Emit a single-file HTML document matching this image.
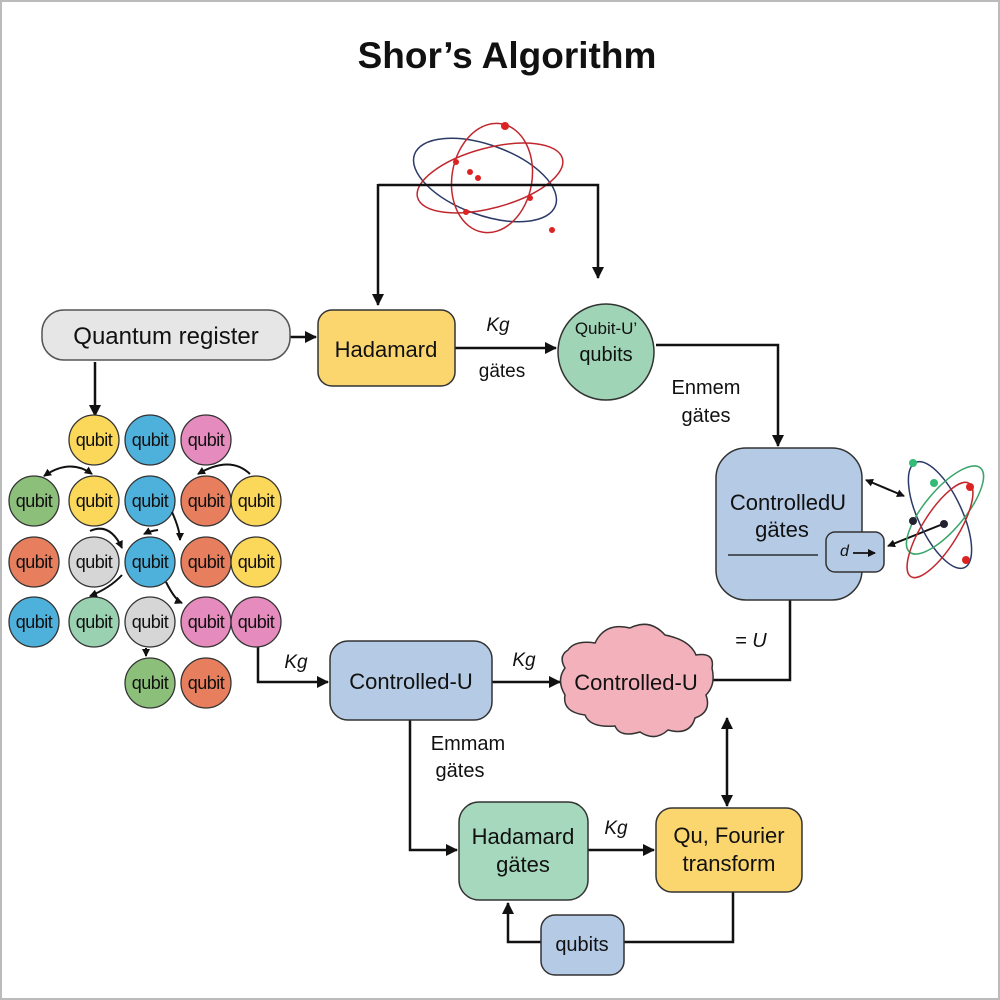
<!DOCTYPE html>
<html><head><meta charset="utf-8"><style>
body{margin:0;background:#fff;}
svg{display:block;font-family:"Liberation Sans",sans-serif;}
</style></head><body>
<svg width="1000" height="1000" viewBox="0 0 1000 1000" xmlns="http://www.w3.org/2000/svg">
<defs>
<marker id="a" markerWidth="12" markerHeight="12" refX="11" refY="6" orient="auto-start-reverse" markerUnits="userSpaceOnUse"><path d="M0,0 L12,6 L0,12 z" fill="#111"/></marker>
<marker id="s" markerWidth="8" markerHeight="8" refX="7" refY="4" orient="auto-start-reverse" markerUnits="userSpaceOnUse"><path d="M0,0 L8,4 L0,8 z" fill="#111"/></marker>
</defs>
<rect x="1" y="1" width="998" height="998" fill="#fff" stroke="#bbb" stroke-width="2"/>
<text x="507" y="68" text-anchor="middle" font-size="37" font-weight="bold" fill="#111">Shor’s Algorithm</text>

<!-- atom top -->
<g fill="none" stroke-width="1.5">
<ellipse cx="485" cy="180" rx="75" ry="35" transform="rotate(20 485 180)" stroke="#2b3a67"/>
<ellipse cx="490" cy="178" rx="75" ry="30" transform="rotate(-15 490 178)" stroke="#c0282e"/>
<ellipse cx="492" cy="178" rx="40" ry="55" transform="rotate(10 492 178)" stroke="#c0282e"/>
</g>
<g fill="#d22">
<circle cx="505" cy="126" r="4"/><circle cx="456" cy="162" r="3"/><circle cx="470" cy="172" r="3"/><circle cx="478" cy="178" r="3"/><circle cx="530" cy="198" r="3"/><circle cx="466" cy="212" r="3"/><circle cx="552" cy="230" r="3"/>
</g>

<!-- connectors -->
<g stroke="#111" stroke-width="2.5" fill="none">
<path d="M378,185 H598 V278" marker-end="url(#a)"/>
<path d="M290,337 H316" marker-end="url(#a)"/>
<path d="M455,348 H556" marker-end="url(#a)"/>
<path d="M656,345 H778 V446" marker-end="url(#a)"/>
<path d="M95,362 V416" marker-end="url(#a)"/>
<path d="M790,600 V680 H712"/>
<path d="M258,646 V682 H328" marker-end="url(#a)"/>
<path d="M492,682 H560" marker-end="url(#a)"/>
<path d="M727,718 V806" marker-start="url(#a)" marker-end="url(#a)"/>
<path d="M410,720 V850 H457" marker-end="url(#a)"/>
<path d="M588,850 H654" marker-end="url(#a)"/>
<path d="M733,892 V942 H624"/>
<path d="M541,942 H508 V903" marker-end="url(#a)"/>
<path d="M378,184 V305" marker-end="url(#a)"/>
</g>

<!-- boxes -->
<rect x="42" y="310" width="248" height="50" rx="22" fill="#e6e6e6" stroke="#555" stroke-width="1.5"/>
<text x="166" y="344" text-anchor="middle" font-size="24" fill="#111">Quantum register</text>
<rect x="318" y="310" width="137" height="76" rx="14" fill="#fbd66f" stroke="#333" stroke-width="1.5"/>
<text x="386" y="357" text-anchor="middle" font-size="22" fill="#111">Hadamard</text>
<circle cx="606" cy="352" r="48" fill="#9fd5b6" stroke="#333" stroke-width="1.5"/>
<text x="606" y="334" text-anchor="middle" font-size="17" fill="#111">Qubit-U’</text>
<text x="606" y="361" text-anchor="middle" font-size="20" fill="#111">qubits</text>
<text x="498" y="331" text-anchor="middle" font-size="19" font-style="italic" fill="#111">Kg</text>
<text x="502" y="377" text-anchor="middle" font-size="19" fill="#111">gätes</text>
<text x="706" y="394" text-anchor="middle" font-size="20" fill="#111">Enmem</text>
<text x="706" y="422" text-anchor="middle" font-size="20" fill="#111">gätes</text>

<rect x="716" y="448" width="146" height="152" rx="30" fill="#b5cbe5" stroke="#333" stroke-width="1.5"/>
<text x="788" y="510" text-anchor="middle" font-size="22" fill="#111">ControlledU</text>
<text x="782" y="537" text-anchor="middle" font-size="22" fill="#111">gätes</text>
<line x1="728" y1="555" x2="818" y2="555" stroke="#111" stroke-width="1.2"/>
<rect x="826" y="532" width="58" height="40" rx="9" fill="#b5cbe5" stroke="#333" stroke-width="1.5"/>
<text x="840" y="556" font-size="16" font-style="italic" fill="#111">d</text>
<path d="M853,553 H875" stroke="#111" stroke-width="1.8" marker-end="url(#s)"/>
<path d="M866,480 L904,496" stroke="#111" stroke-width="2" marker-start="url(#s)" marker-end="url(#s)"/>
<path d="M943,524 L888,546" stroke="#111" stroke-width="2" marker-end="url(#s)"/>
<g fill="none" stroke-width="1.5">
<ellipse cx="940" cy="515" rx="22" ry="58" transform="rotate(-25 940 515)" stroke="#2b3a67"/>
<ellipse cx="945" cy="510" rx="55" ry="20" transform="rotate(-50 945 510)" stroke="#3aa56b"/>
<ellipse cx="940" cy="530" rx="55" ry="18" transform="rotate(-58 940 530)" stroke="#c0282e"/>
</g>
<g><circle cx="913" cy="463" r="4" fill="#3b7"/><circle cx="934" cy="483" r="4" fill="#3b7"/><circle cx="970" cy="487" r="4" fill="#d22"/><circle cx="913" cy="521" r="4" fill="#223"/><circle cx="944" cy="524" r="4" fill="#223"/><circle cx="966" cy="560" r="4" fill="#d22"/></g>
<text x="735" y="647" font-size="20" font-style="italic" fill="#111">= U</text>

<rect x="330" y="641" width="162" height="79" rx="18" fill="#b5cbe5" stroke="#333" stroke-width="1.5"/>
<text x="411" y="689" text-anchor="middle" font-size="22" fill="#111">Controlled-U</text>
<text x="296" y="668" text-anchor="middle" font-size="19" font-style="italic" fill="#111">Kg</text>
<text x="524" y="666" text-anchor="middle" font-size="19" font-style="italic" fill="#111">Kg</text>
<path d="M568,650 Q575,640 595,643 Q605,622 630,628 Q650,618 665,635 Q690,640 696,655 Q715,652 712,668 Q716,685 706,695 Q712,712 695,718 Q690,736 668,730 Q655,742 640,732 Q620,738 615,726 Q590,728 585,715 Q562,712 565,695 Q556,680 565,668 Q558,656 568,650 Z" fill="#f3b2bb" stroke="#333" stroke-width="1.5"/>
<text x="636" y="690" text-anchor="middle" font-size="22" fill="#111">Controlled-U</text>
<text x="468" y="750" text-anchor="middle" font-size="20" fill="#111">Emmam</text>
<text x="460" y="777" text-anchor="middle" font-size="20" fill="#111">gätes</text>

<rect x="459" y="802" width="129" height="98" rx="20" fill="#a5d8bd" stroke="#333" stroke-width="1.5"/>
<text x="523" y="844" text-anchor="middle" font-size="22" fill="#111">Hadamard</text>
<text x="523" y="872" text-anchor="middle" font-size="22" fill="#111">gätes</text>
<text x="616" y="834" text-anchor="middle" font-size="19" font-style="italic" fill="#111">Kg</text>
<rect x="656" y="808" width="146" height="84" rx="16" fill="#fbd66f" stroke="#333" stroke-width="1.5"/>
<text x="729" y="843" text-anchor="middle" font-size="22" fill="#111">Qu, Fourier</text>
<text x="729" y="871" text-anchor="middle" font-size="22" fill="#111">transform</text>
<rect x="541" y="915" width="83" height="60" rx="14" fill="#b5cbe5" stroke="#333" stroke-width="1.5"/>
<text x="582" y="951" text-anchor="middle" font-size="20" fill="#111">qubits</text>

<!-- qubit grid -->
<g stroke="#333" stroke-width="1.3">
<g><circle cx="94" cy="440" r="25" fill="#fbd85a"/><circle cx="150" cy="440" r="25" fill="#4eb1dc"/><circle cx="206" cy="440" r="25" fill="#e58bbd"/></g>
<g><circle cx="34" cy="501" r="25" fill="#8cc07a"/><circle cx="94" cy="501" r="25" fill="#fbd85a"/><circle cx="150" cy="501" r="25" fill="#4eb1dc"/><circle cx="206" cy="501" r="25" fill="#e77e5e"/><circle cx="256" cy="501" r="25" fill="#fbd85a"/></g>
<g><circle cx="34" cy="562" r="25" fill="#e77e5e"/><circle cx="94" cy="562" r="25" fill="#d6d6d6"/><circle cx="150" cy="562" r="25" fill="#4eb1dc"/><circle cx="206" cy="562" r="25" fill="#e77e5e"/><circle cx="256" cy="562" r="25" fill="#fbd85a"/></g>
<g><circle cx="34" cy="622" r="25" fill="#4eb1dc"/><circle cx="94" cy="622" r="25" fill="#99d1b1"/><circle cx="150" cy="622" r="25" fill="#d6d6d6"/><circle cx="206" cy="622" r="25" fill="#e58bbd"/><circle cx="256" cy="622" r="25" fill="#e58bbd"/></g>
<g><circle cx="150" cy="683" r="25" fill="#8cc07a"/><circle cx="206" cy="683" r="25" fill="#e77e5e"/></g>
</g>
<g font-size="18" fill="#111" text-anchor="middle" letter-spacing="-0.5">
<text x="94" y="446">qubit</text><text x="150" y="446">qubit</text><text x="206" y="446">qubit</text>
<text x="34" y="507">qubit</text><text x="94" y="507">qubit</text><text x="150" y="507">qubit</text><text x="206" y="507">qubit</text><text x="256" y="507">qubit</text>
<text x="34" y="568">qubit</text><text x="94" y="568">qubit</text><text x="150" y="568">qubit</text><text x="206" y="568">qubit</text><text x="256" y="568">qubit</text>
<text x="34" y="628">qubit</text><text x="94" y="628">qubit</text><text x="150" y="628">qubit</text><text x="206" y="628">qubit</text><text x="256" y="628">qubit</text>
<text x="150" y="689">qubit</text><text x="206" y="689">qubit</text>
</g>
<g stroke="#111" stroke-width="2" fill="none">
<path d="M92,474 Q70,458 44,476" marker-start="url(#s)" marker-end="url(#s)"/>
<path d="M250,474 Q230,455 198,474" marker-end="url(#s)"/>
<path d="M90,531 Q110,522 122,548" marker-end="url(#s)"/>
<path d="M158,530 Q150,531 144,534" marker-end="url(#s)"/>
<path d="M172,512 Q180,530 180,540" marker-end="url(#s)"/>
<path d="M122,575 Q110,588 90,596" marker-end="url(#s)"/>
<path d="M166,582 Q175,600 182,603" marker-end="url(#s)"/>
<path d="M146,648 V656" marker-end="url(#s)"/>
</g>
</svg>
</body></html>
